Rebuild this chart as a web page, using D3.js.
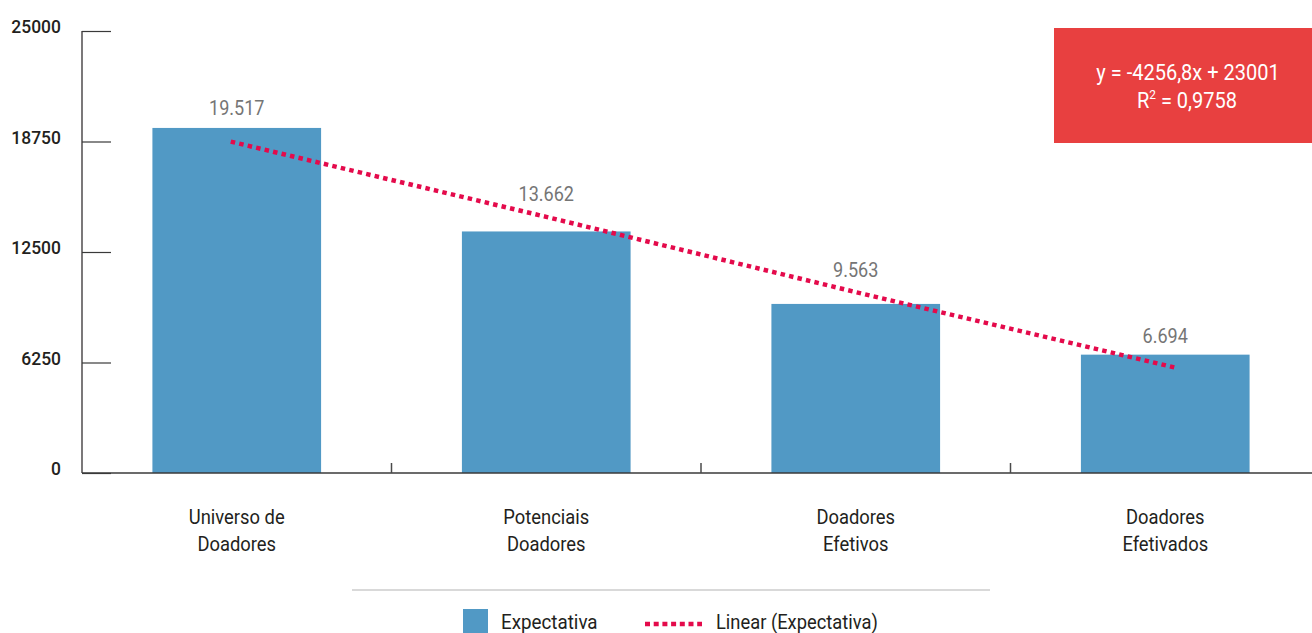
<!DOCTYPE html>
<html>
<head>
<meta charset="utf-8">
<script src="https://cdn.jsdelivr.net/npm/d3@7"></script>
<style>
  html, body { margin: 0; padding: 0; background: #fff; overflow: hidden; }
  svg { display: block; font-family: Roboto, "Liberation Sans", sans-serif; }
</style>
</head>
<body>
<div id="grafico"></div>
<script>
// Dados
const categorias = [
    ["Universo de", "Doadores"],
    ["Potenciais", "Doadores"],
    ["Doadores", "Efetivos"],
    ["Doadores", "Efetivados"]
];
const expectativa = [19517, 13662, 9563, 6694];
const tendencia = [18744, 14487, 10231, 5974];   // Linear (Expectativa)
const ticksY = [0, 6250, 12500, 18750, 25000];
const rotulos = ["19.517", "13.662", "9.563", "6.694"];
const equacao = ["y = -4256,8x + 23001", "0,9758"];

const width = 1312;
const height = 633;
const corBarra = "#5199c5";
const corLinha = "#e40a4b";

const svg = d3.select("#grafico").append("svg")
    .attr("width", width)
    .attr("height", height)
    .attr("viewBox", [0, 0, width, height]);

// texto "condensado" (a fonte original é estreita)
function texto(g, x, y, t, size, sx, anchor) {
    return g.append("text")
        .attr("transform", `translate(${x},${y}) scale(${sx},1)`)
        .attr("font-size", size)
        .attr("text-anchor", anchor || "middle")
        .text(t);
}

// Escalas
const x = d3.scaleBand()
    .domain(d3.range(categorias.length))
    .range([82, 1320])
    .padding(0);

const y = d3.scaleLinear()
    .domain([0, 25000])
    .range([473, 31]);

const barW = x.bandwidth() * 0.545;
const cx = i => x(i) + x.bandwidth() / 2;

// Eixo Y (ticks para dentro)
const eixoY = svg.append("g")
    .attr("transform", "translate(82,0)")
    .call(d3.axisRight(y).tickValues(ticksY).tickSize(29).tickFormat(""));
eixoY.select(".domain").attr("stroke", "#231f20").attr("stroke-width", 1.2)
    .attr("d", `M0,${y(25000)}V${y(0)}`);
eixoY.selectAll(".tick line").attr("stroke", "#3a3a3a").attr("stroke-width", 1.2);

const rotY = svg.append("g").attr("fill", "#231f20").attr("font-weight", 500);
ticksY.forEach(d => texto(rotY, 61, y(d) + 2, d, 19, 0.92, "end"));

// Barras
svg.append("g")
    .attr("fill", corBarra)
    .selectAll("rect")
    .data(expectativa)
    .join("rect")
    .attr("x", (d, i) => x(i) + (x.bandwidth() - barW) / 2)
    .attr("y", d => y(d))
    .attr("width", barW)
    .attr("height", d => y(0) - y(d));

// Eixo X
const eixoX = svg.append("g")
    .attr("transform", `translate(0,${y(0)})`)
    .call(d3.axisTop(x).tickSize(0).tickFormat(""));
eixoX.select(".domain").attr("stroke", "#3a3a3a").attr("stroke-width", 1.5)
    .attr("d", `M82,0H${width}`);
// marcas entre categorias
svg.append("g")
    .selectAll("line")
    .data(d3.range(1, categorias.length))
    .join("line")
    .attr("x1", i => x(i))
    .attr("x2", i => x(i))
    .attr("y1", y(0))
    .attr("y2", y(0) - 10)
    .attr("stroke", "#4a4a4a")
    .attr("stroke-width", 1.5);

// Rótulos das categorias
const rotX = svg.append("g").attr("fill", "#231f20");
categorias.forEach((linhas, i) => {
    linhas.forEach((t, j) => texto(rotX, cx(i), 524 + j * 27, t, 21, 0.875));
});

// Rótulos de valor (deslocados como no original para fugir da linha)
const deslocamento = [13, 30, 27, 12];
const rotV = svg.append("g").attr("fill", "#757575");
expectativa.forEach((d, i) => texto(rotV, cx(i), y(d) - deslocamento[i], rotulos[i], 21, 0.86));

// Linha de tendência
const linha = d3.line()
    .x((d, i) => cx(i) + (i === 0 ? -6 : 0) + (i === tendencia.length - 1 ? 9 : 0))
    .y(d => y(d));

svg.append("path")
    .datum(tendencia)
    .attr("d", linha)
    .attr("fill", "none")
    .attr("stroke", corLinha)
    .attr("stroke-width", 4.5)
    .attr("stroke-dasharray", "4.5,4.2");

// Caixa da equação
svg.append("rect")
    .attr("x", 1054)
    .attr("y", 28)
    .attr("width", width - 1054)
    .attr("height", 115)
    .attr("fill", "#e84040");

const caixa = svg.append("g").attr("fill", "#ffffff");
texto(caixa, 1188, 80, equacao[0], 22, 0.91);
const r2 = texto(caixa, 1187, 108, "", 22, 0.91);
r2.append("tspan").text("R");
r2.append("tspan").attr("font-size", 13).attr("dy", -9).text("2");
r2.append("tspan").attr("dy", 9).text(" = " + equacao[1]);

// Separador da legenda
svg.append("line")
    .attr("x1", 352).attr("x2", 990)
    .attr("y1", 590).attr("y2", 590)
    .attr("stroke", "#d9d9d9")
    .attr("stroke-width", 2);

// Legenda
const legenda = svg.append("g").attr("fill", "#231f20");
legenda.append("rect")
    .attr("x", 463).attr("y", 609)
    .attr("width", 25).attr("height", 24)
    .attr("fill", corBarra);
texto(legenda, 501, 629, "Expectativa", 20, 0.94, "start");
legenda.append("line")
    .attr("x1", 645).attr("x2", 702)
    .attr("y1", 624).attr("y2", 624)
    .attr("stroke", corLinha)
    .attr("stroke-width", 4.5)
    .attr("stroke-dasharray", "5,3.7");
texto(legenda, 716, 629, "Linear (Expectativa)", 20, 0.917, "start");
</script>
</body>
</html>
